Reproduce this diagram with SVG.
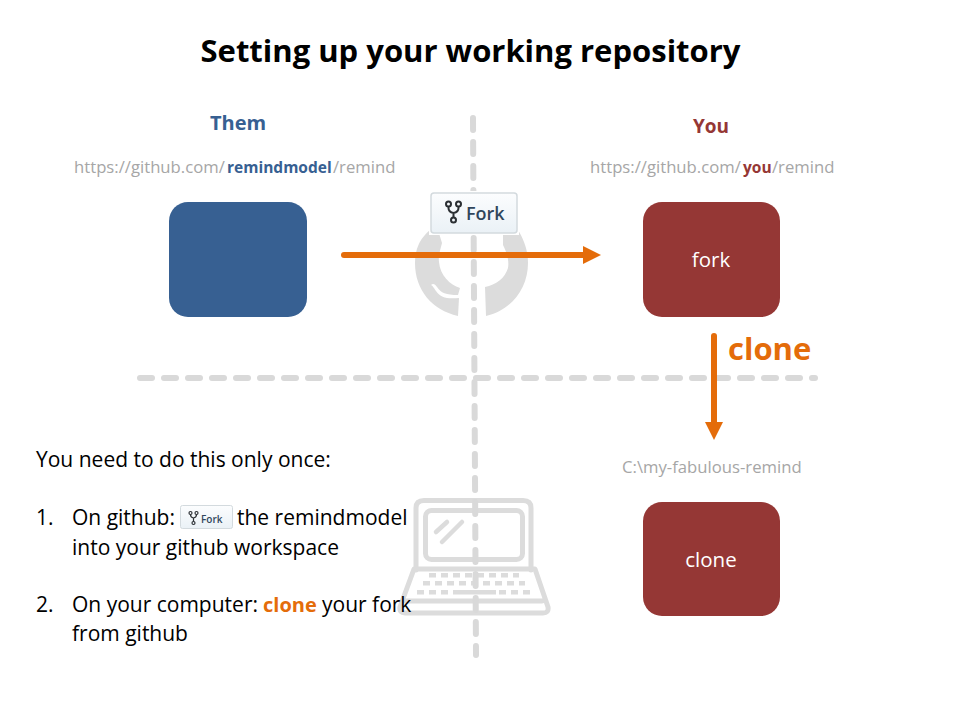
<svg xmlns="http://www.w3.org/2000/svg" width="960" height="720" viewBox="0 0 960 720">
<defs>
<linearGradient id="btn" x1="0" y1="0" x2="0" y2="1"><stop offset="0" stop-color="#fcfdfe"/><stop offset="1" stop-color="#eaf1f6"/></linearGradient>
</defs>
<style>
text{font-family:"Open Sans","Noto Sans","Liberation Sans",sans-serif}
.url{font-size:16.700px;fill:#a6a6a6}
.body{font-size:21px;fill:#000}
.boxlabel{font-size:20.500px;fill:#fff;text-anchor:middle}
.dash{fill:none;stroke:#d9d9d9;stroke-width:6px;stroke-linecap:round;stroke-dasharray:12 12}
.ghost{fill:none;stroke:#dcdcdc;stroke-linecap:round;stroke-linejoin:round}
.keys{fill:#dcdcdc}
.arrow{fill:none;stroke:#e46c0a;stroke-width:6px;stroke-linecap:round}
.arrowhead{fill:#e46c0a}
.forkbtn{fill:url(#btn);stroke:#d3dade;stroke-width:1.500px}
.forkicon{fill:none;stroke:#2b2f33;stroke-width:2px}
.forkicon2{fill:none;stroke:#2b2f33;stroke-width:1.200px}
</style>
<rect width="960" height="720" fill="#fff"/>
<text x="470.500" y="62" font-size="31" font-weight="700" text-anchor="middle" fill="#000">Setting up your working repository</text>
<g id="background">
<path class="keys" d="M430 230C418 240 415 252 415 263C415 290 432 310 458 316L459 298C447 299 441 298 436 291C434 288 432 285 431 285C433 283 435 284 437 287C441 293 446 295 458 295L460 288C450 285 440 275 439 262C438 255 441 248 442 243L438 230Z"/>
<path class="keys" d="M503 230L503 245C508 255 509 262 508 268C505 278 496 285 485 287L486 316C512 310 528 288 528 263C528 250 524 240 518 230Z"/>
<path class="ghost" stroke-width="5" d="M416 570V508Q416 500.500 424 500.500H523Q531 500.500 531 508V570"/>
<rect class="ghost" stroke-width="5" x="425.500" y="510.500" width="97" height="49" rx="6"/>
<path class="ghost" stroke-width="4.500" d="M436 532L447 522M442 542L462 522"/>
<path class="ghost" stroke-width="5" d="M414 569H535L548 607Q549 613 543 613H405Q399 613 400 607ZM406 601H542"/>
<path class="keys" d="M429 573h7v4.500h-7zM441 573h7v4.500h-7zM453 573h7v4.500h-7zM465 573h7v4.500h-7zM477 573h7v4.500h-7zM489 573h7v4.500h-7zM501 573h7v4.500h-7zM513 573h6v4.500h-6zM423 581h7v4.500h-7zM435 581h7v4.500h-7zM447 581h7v4.500h-7zM459 581h7v4.500h-7zM471 581h7v4.500h-7zM483 581h7v4.500h-7zM495 581h7v4.500h-7zM507 581h7v4.500h-7zM519 581h6v4.500h-6zM417 590h7v4.500h-7zM429 590h7v4.500h-7zM441 590h7v4.500h-7zM453 590h43v4.500h-43zM499 590h7v4.500h-7zM511 590h7v4.500h-7zM523 590h7v4.500h-7z"/>
<path class="dash" d="M473 118L476 655"/>
<path class="dash" d="M140 378H815"/>
</g>
<g id="them">
<rect x="169" y="202" width="138" height="115" rx="19" fill="#376092"/>
<text x="238" y="130" font-size="20" font-weight="700" fill="#376092" text-anchor="middle">Them</text>
<text class="url" x="74" y="173">https://github.com/<tspan x="227" font-size="15.500" font-weight="700" fill="#376092">remindmodel</tspan><tspan x="333">/remind</tspan></text>
</g>
<g id="you">
<rect x="643" y="202" width="137" height="115" rx="19" fill="#953735"/>
<text class="boxlabel" x="711" y="267">fork</text>
<text x="711" y="133" font-size="19" font-weight="700" fill="#953735" text-anchor="middle">You</text>
<text class="url" x="590" y="173">https://github.com/<tspan x="743" font-size="15.500" font-weight="700" fill="#953735">you</tspan><tspan x="772">/remind</tspan></text>
</g>
<g id="local">
<rect x="643" y="502" width="137" height="114" rx="19" fill="#953735"/>
<text class="boxlabel" x="711" y="567">clone</text>
<text class="url" x="622" y="473">C:\my-fabulous-remind</text>
</g>
<g id="fork-button">
<rect x="429" y="191" width="90" height="44" fill="#fff"/>
<rect class="forkbtn" x="431" y="193" width="86" height="40" rx="3"/>
<circle class="forkicon" cx="448.500" cy="204" r="2.500"/><circle class="forkicon" cx="458.500" cy="204" r="2.500"/><circle class="forkicon" cx="453.500" cy="220" r="2.500"/>
<path class="forkicon" d="M448.500 206.500V208Q448.500 212 453.500 213V217.500M458.500 206.500V208Q458.500 212 453.500 213"/>
<text x="466" y="220" font-size="18" font-weight="600" fill="#30465c">Fork</text>
</g>
<g id="connectors">
<path class="arrow" d="M344 255H585"/>
<path class="arrowhead" d="M583 246L601 255L583 264Z"/>
<path class="arrow" d="M714 336V424"/>
<path class="arrowhead" d="M705 422H723L714 440Z"/>
</g>
<text x="728" y="360" font-size="31" font-weight="700" fill="#e46c0a">clone</text>
<g id="instructions">
<text class="body" x="36" y="467">You need to do this only once:</text>
<text class="body" x="36" y="525">1.</text>
<text class="body" x="72" y="525">On github:</text>
<rect x="180.500" y="505.500" width="52" height="23" rx="2" fill="url(#btn)" stroke="#d3dade"/>
<circle class="forkicon2" cx="190.500" cy="513" r="1.500"/><circle class="forkicon2" cx="196.500" cy="513" r="1.500"/><circle class="forkicon2" cx="193.500" cy="523" r="1.500"/>
<path class="forkicon2" d="M190.500 514.500Q190.500 517.500 193.500 518V521.500M196.500 514.500Q196.500 517.500 193.500 518"/>
<text x="201" y="523" font-size="10" font-weight="600" fill="#30465c">Fork</text>
<text class="body" x="237" y="525">the remindmodel</text>
<text class="body" x="72" y="555">into your github workspace</text>
<text class="body" x="36" y="612">2.</text>
<text class="body" x="72" y="612">On your computer:<tspan x="263" font-size="20" font-weight="700" fill="#e46c0a">clone</tspan><tspan x="322">your fork</tspan></text>
<text class="body" x="72" y="641">from github</text>
</g>
</svg>
